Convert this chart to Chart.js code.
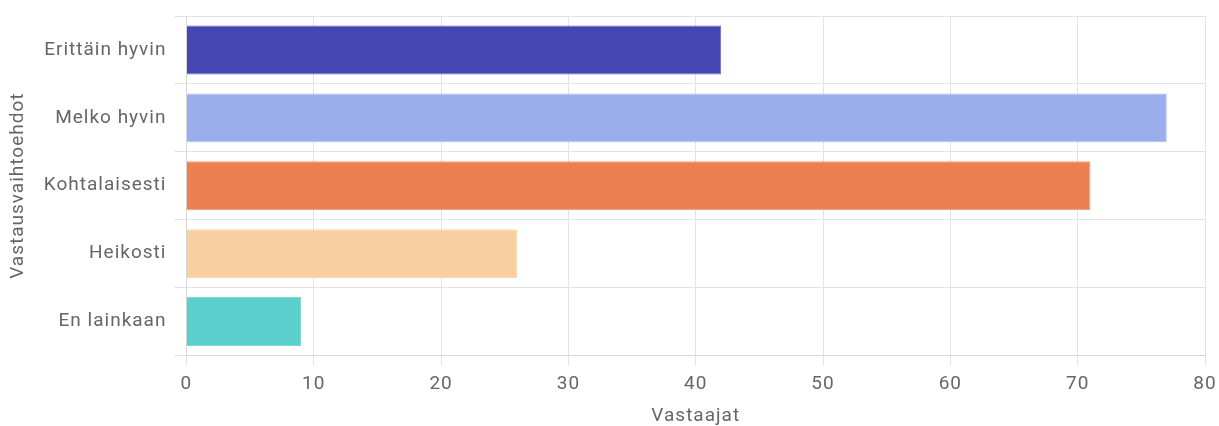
<!DOCTYPE html>
<html>
<head>
<meta charset="utf-8">
<script src="https://cdn.jsdelivr.net/npm/chart.js@4/dist/chart.umd.min.js"></script>
<style>
  html, body { margin: 0; padding: 0; background: #fff; }
  #wrap { width: 1219px; height: 426px; }
</style>
</head>
<body>
<div id="wrap"><canvas id="chart"></canvas></div>
<script>
// vastausvaihtoehdot ja vastaajamäärät
const categories = ['Erittäin hyvin', 'Melko hyvin', 'Kohtalaisesti', 'Heikosti', 'En lainkaan'];
const values = [42, 77, 71, 26, 9];
const barColors = ['#4446B1', '#99AEEB', '#ED7F50', '#F8CFA0', '#5BCFCC'];
const xTicks = [0, 10, 20, 30, 40, 50, 60, 70, 80];

const FONT = 'Roboto, "Open Sans", sans-serif';
const gridColor = '#e3e3e3';
const textColor = '#666';

// kuvan tekstissä on hieman harvennusta
const spacing = {
  id: 'spacing',
  beforeUpdate(chart) { chart.ctx.letterSpacing = '1px'; },
  beforeDraw(chart) { chart.ctx.letterSpacing = '1px'; },
};

new Chart(document.getElementById('chart'), {
  type: 'bar',
  data: {
    labels: categories,
    datasets: [{
      label: 'Vastaajat',
      data: values,
      backgroundColor: barColors,
      borderColor: barColors.map(c => c + 'cc'),
      borderWidth: 1,
    }],
  },
  options: {
    indexAxis: 'y',
    responsive: true,
    maintainAspectRatio: false,
    animation: false,
    layout: { padding: { top: 16, right: 0, left: 3, bottom: -2 } },
    plugins: { legend: { display: false }, tooltip: { enabled: false } },
    scales: {
      x: {
        min: 0, max: 80,
        afterBuildTicks: ax => { ax.ticks = xTicks.map(v => ({ value: v })); },
        afterFit: ax => { ax.paddingRight = 14; },
        grid: { color: gridColor, tickLength: 10 },
        border: { color: '#d6d6d6' },
        ticks: { color: textColor, font: { family: FONT, size: 19 }, padding: 7 },
        title: { display: true, text: 'Vastaajat', color: textColor, font: { family: FONT, size: 19 }, padding: { top: 3, bottom: 0 } },
      },
      y: {
        afterFit: ax => { ax.paddingTop = 0; ax.paddingBottom = 0; },
        grid: { color: gridColor, tickLength: 12 },
        border: { color: '#d6d6d6' },
        ticks: { color: textColor, font: { family: FONT, size: 19 }, padding: 8 },
        title: { display: true, text: 'Vastausvaihtoehdot', color: textColor, font: { family: FONT, size: 19 }, padding: { top: 4, bottom: 6 } },
      },
    },
  },
  plugins: [spacing],
});
</script>
</body>
</html>
